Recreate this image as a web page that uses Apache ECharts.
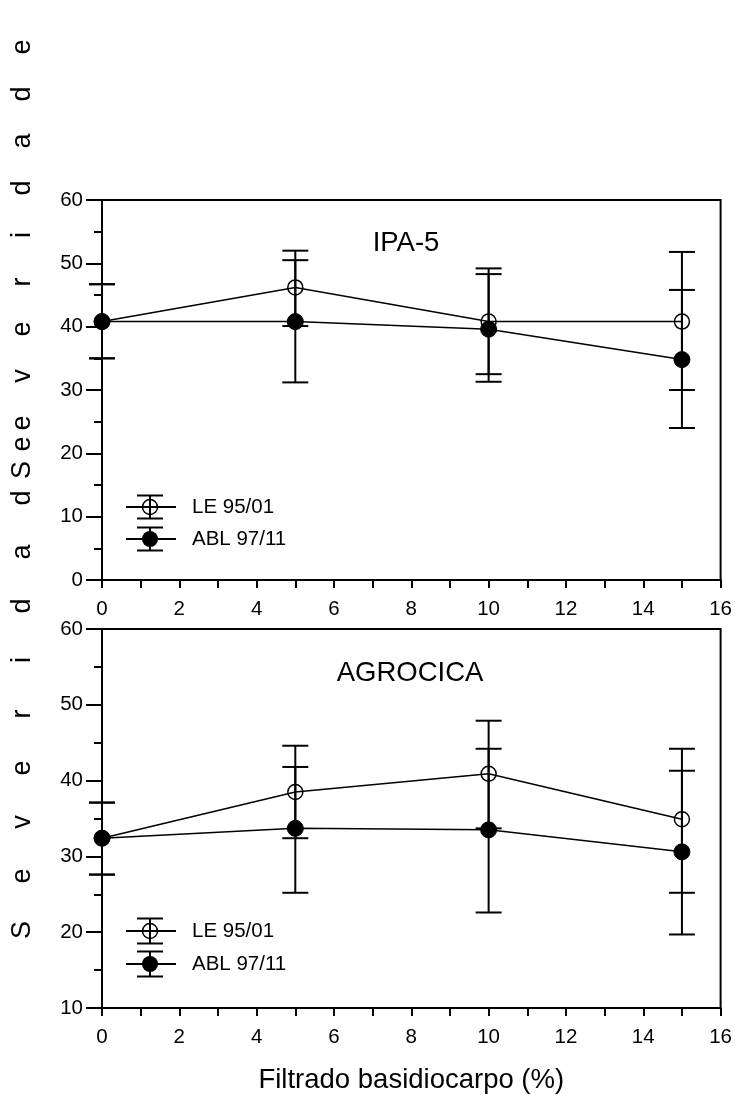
<!DOCTYPE html>
<html><head><meta charset="utf-8">
<script src="https://cdn.jsdelivr.net/npm/echarts@6/dist/echarts.min.js"></script>
<style>html,body{margin:0;padding:0;background:#fff}#c{width:735px;height:1095px}</style>
</head><body><div id="c"></div>
<script>
// ---- data ----
const xValues = [0, 5, 10, 15];
const seriesNames = ['LE 95/01', 'ABL 97/11'];
const panelTitles = ['IPA-5', 'AGROCICA'];
const yAxisLabel = 'Severidade';
const xAxisTitle = 'Filtrado basidiocarpo (%)';

const ipaLE = [40.8, 46.2, 40.8, 40.8];
const ipaLELow = [35.0, 40.1, 32.5, 30.0];
const ipaLEHigh = [46.7, 52.0, 49.2, 51.8];
const ipaABL = [40.8, 40.8, 39.6, 34.8];
const ipaABLLow = [35.0, 31.2, 31.3, 24.0];
const ipaABLHigh = [46.7, 50.5, 48.3, 45.8];

const agLE = [32.4, 38.5, 40.9, 34.9];
const agLELow = [27.6, 32.4, 33.7, 25.2];
const agLEHigh = [37.1, 44.6, 47.9, 44.2];
const agABL = [32.4, 33.7, 33.5, 30.6];
const agABLLow = [27.6, 25.2, 22.6, 19.7];
const agABLHigh = [37.1, 41.8, 44.2, 41.3];

// ---- styling ----
const FONT = '"Liberation Sans", Arial, Helvetica, sans-serif';
const BLACK = '#000';
const TICK_FS = 20.5, LEG_FS = 20.5, TITLE_FS = 27.5, NAME_FS = 27.5, YLAB_FS = 27;

function errSeries(gi, lows, highs) {
  return {
    type: 'custom', xAxisIndex: gi, yAxisIndex: gi, z: 3, silent: true, clip: false,
    data: xValues.map((x, i) => [x, lows[i], highs[i]]),
    encode: { x: 0, y: [1, 2] },
    renderItem: (params, api) => {
      const lo = api.coord([api.value(0), api.value(1)]);
      const hi = api.coord([api.value(0), api.value(2)]);
      const w = 13, st = { stroke: BLACK, lineWidth: 2 };
      return { type: 'group', children: [
        { type: 'line', shape: { x1: lo[0], y1: lo[1], x2: hi[0], y2: hi[1] }, style: st },
        { type: 'line', shape: { x1: lo[0] - w, y1: lo[1], x2: lo[0] + w, y2: lo[1] }, style: st },
        { type: 'line', shape: { x1: hi[0] - w, y1: hi[1], x2: hi[0] + w, y2: hi[1] }, style: st }
      ]};
    }
  };
}
function lineSeries(gi, name, vals, filled) {
  return {
    type: 'line', name, xAxisIndex: gi, yAxisIndex: gi, z: 4, silent: true,
    data: xValues.map((x, i) => [x, vals[i]]),
    symbol: 'circle', symbolSize: filled ? 16 : 15,
    lineStyle: { color: BLACK, width: 1.5 },
    itemStyle: filled ? { color: BLACK, borderColor: BLACK, borderWidth: 1 }
                      : { color: 'rgba(255,255,255,0)', borderColor: BLACK, borderWidth: 1.5 },
    animation: false
  };
}
function xAxis(gi, withName) {
  const a = {
    type: 'value', gridIndex: gi, min: 0, max: 16, interval: 2,
    axisLine: { show: true, lineStyle: { color: BLACK, width: 2 } },
    axisTick: { show: true, inside: false, length: 8, lineStyle: { color: BLACK, width: 2 } },
    minorTick: { show: true, splitNumber: 2, length: 8, lineStyle: { color: BLACK, width: 2 } },
    splitLine: { show: false }, minorSplitLine: { show: false },
    axisLabel: { color: BLACK, fontSize: TICK_FS, fontFamily: FONT, margin: 19 }
  };
  if (withName) {
    a.name = xAxisTitle; a.nameLocation = 'middle'; a.nameGap = 58;
    a.nameTextStyle = { color: BLACK, fontSize: NAME_FS, fontFamily: FONT };
  }
  return a;
}
function yAxis(gi, min) {
  return {
    type: 'value', gridIndex: gi, min, max: 60, interval: 10,
    axisLine: { show: true, lineStyle: { color: BLACK, width: 2 } },
    axisTick: { show: true, inside: false, length: 16, lineStyle: { color: BLACK, width: 2 } },
    minorTick: { show: true, splitNumber: 2, length: 8, lineStyle: { color: BLACK, width: 2 } },
    splitLine: { show: false }, minorSplitLine: { show: false },
    axisLabel: { color: BLACK, fontSize: TICK_FS, fontFamily: FONT, margin: 19 }
  };
}

// legend graphics (decorative, like the original inset legend)
function legendGraphics(yOpen, yFilled, half) {
  const g = [];
  const lx = 150, st = { stroke: BLACK, lineWidth: 2 };
  [[yOpen, false, seriesNames[0]], [yFilled, true, seriesNames[1]]].forEach(([y, filled, label]) => {
    g.push({ type: 'line', shape: { x1: 126, y1: y, x2: 176, y2: y }, style: st, z: 10 });
    g.push({ type: 'line', shape: { x1: lx, y1: y - half, x2: lx, y2: y + half }, style: st, z: 10 });
    g.push({ type: 'line', shape: { x1: lx - 13, y1: y - half, x2: lx + 13, y2: y - half }, style: st, z: 10 });
    g.push({ type: 'line', shape: { x1: lx - 13, y1: y + half, x2: lx + 13, y2: y + half }, style: st, z: 10 });
    g.push({ type: 'circle', shape: { cx: lx, cy: y, r: filled ? 8 : 7.5 },
      style: filled ? { fill: BLACK } : { fill: 'none', stroke: BLACK, lineWidth: 1.5 }, z: 11 });
    g.push({ type: 'text', x: 192, y: y, style: { text: label, fill: BLACK, font: LEG_FS + 'px ' + FONT,
      textAlign: 'left', textVerticalAlign: 'middle' }, z: 11 });
  });
  return g;
}
function spacedLabel(word, startY, step) {
  return word.split('').map((ch, i) => ({
    type: 'text', x: 23, y: startY - i * step, rotation: Math.PI / 2,
    style: { text: ch, fill: BLACK, font: YLAB_FS + 'px ' + FONT, textAlign: 'center', textVerticalAlign: 'middle' }
  }));
}

const graphics = [].concat(
  legendGraphics(507, 539, 11.5),
  legendGraphics(931, 964, 12.5),
  spacedLabel(yAxisLabel, 930, 54),
  spacedLabel(yAxisLabel, 470, 47),
  [
    { type: 'text', x: 406, y: 243, style: { text: panelTitles[0], fill: BLACK, font: TITLE_FS + 'px ' + FONT, textAlign: 'center', textVerticalAlign: 'middle' } },
    { type: 'text', x: 410, y: 673, style: { text: panelTitles[1], fill: BLACK, font: TITLE_FS + 'px ' + FONT, textAlign: 'center', textVerticalAlign: 'middle' } }
  ]
);

const chart = echarts.init(document.getElementById('c'), null, { renderer: 'canvas' });
chart.setOption({
  animation: false,
  backgroundColor: '#fff',
  grid: [
    { left: 102, top: 200, width: 620, height: 380, show: true, borderColor: BLACK, borderWidth: 2, backgroundColor: 'transparent' },
    { left: 102, top: 629, width: 620, height: 379, show: true, borderColor: BLACK, borderWidth: 2, backgroundColor: 'transparent' }
  ],
  xAxis: [xAxis(0, false), xAxis(1, true)],
  yAxis: [yAxis(0, 0), yAxis(1, 10)],
  series: [
    errSeries(0, ipaLELow, ipaLEHigh), errSeries(0, ipaABLLow, ipaABLHigh),
    lineSeries(0, seriesNames[0], ipaLE, false), lineSeries(0, seriesNames[1], ipaABL, true),
    errSeries(1, agLELow, agLEHigh), errSeries(1, agABLLow, agABLHigh),
    lineSeries(1, seriesNames[0], agLE, false), lineSeries(1, seriesNames[1], agABL, true)
  ],
  graphic: graphics
});
</script></body></html>
